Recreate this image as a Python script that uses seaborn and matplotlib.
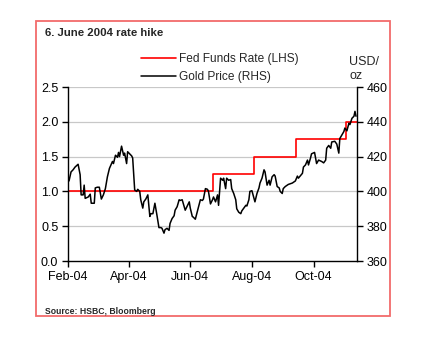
import matplotlib
matplotlib.use("Agg")
import matplotlib.pyplot as plt
import matplotlib.dates as mdates
from matplotlib.patches import Rectangle
import numpy as np
import pandas as pd
import seaborn as sns

# Fed funds target rate (%), step changes
fed_dates = ["2004-02-01", "2004-06-23", "2004-08-03", "2004-09-14",
             "2004-11-02", "2004-11-13"]
fed_rate = [1.00, 1.25, 1.50, 1.75, 2.00, 2.00]

# Gold price (USD/oz)
gold_dates = [
    "2004-02-02", "2004-02-04", "2004-02-06", "2004-02-08", "2004-02-11",
    "2004-02-13", "2004-02-14", "2004-02-16", "2004-02-17", "2004-02-18",
    "2004-02-21", "2004-02-23", "2004-02-24", "2004-02-27", "2004-02-28",
    "2004-03-01", "2004-03-03", "2004-03-05", "2004-03-07", "2004-03-09",
    "2004-03-11", "2004-03-13", "2004-03-16", "2004-03-17", "2004-03-19",
    "2004-03-21", "2004-03-22", "2004-03-23", "2004-03-25", "2004-03-27",
    "2004-03-28", "2004-03-30", "2004-03-31", "2004-04-02", "2004-04-04",
    "2004-04-05", "2004-04-07", "2004-04-09", "2004-04-10", "2004-04-12",
    "2004-04-13", "2004-04-15", "2004-04-16", "2004-04-18", "2004-04-20",
    "2004-04-22", "2004-04-23", "2004-04-25", "2004-04-27", "2004-04-29",
    "2004-05-01", "2004-05-03", "2004-05-04", "2004-05-06", "2004-05-07",
    "2004-05-09", "2004-05-11", "2004-05-12", "2004-05-14", "2004-05-16",
    "2004-05-17", "2004-05-19", "2004-05-21", "2004-05-22", "2004-05-24",
    "2004-05-26", "2004-05-27", "2004-05-29", "2004-05-31", "2004-06-01",
    "2004-06-03", "2004-06-04", "2004-06-06", "2004-06-08", "2004-06-09",
    "2004-06-11", "2004-06-13", "2004-06-14", "2004-06-16", "2004-06-18",
    "2004-06-19", "2004-06-21", "2004-06-23", "2004-06-24", "2004-06-26",
    "2004-06-28", "2004-06-29", "2004-07-01", "2004-07-03", "2004-07-04",
    "2004-07-06", "2004-07-07", "2004-07-09", "2004-07-11", "2004-07-12",
    "2004-07-14", "2004-07-16", "2004-07-17", "2004-07-19", "2004-07-21",
    "2004-07-22", "2004-07-24", "2004-07-26", "2004-07-27", "2004-07-29",
    "2004-07-30", "2004-08-01", "2004-08-03", "2004-08-04", "2004-08-06",
    "2004-08-08", "2004-08-09", "2004-08-11", "2004-08-13", "2004-08-14",
    "2004-08-16", "2004-08-18", "2004-08-19", "2004-08-21", "2004-08-23",
    "2004-08-24", "2004-08-26", "2004-08-28", "2004-08-29", "2004-08-31",
    "2004-09-01", "2004-09-03", "2004-09-06", "2004-09-10", "2004-09-13",
    "2004-09-15", "2004-09-16", "2004-09-20", "2004-09-21", "2004-09-23",
    "2004-09-25", "2004-09-26", "2004-09-28", "2004-09-29", "2004-10-02",
    "2004-10-04", "2004-10-06", "2004-10-09", "2004-10-11", "2004-10-13",
    "2004-10-14", "2004-10-16", "2004-10-18", "2004-10-19", "2004-10-22",
    "2004-10-24", "2004-10-26", "2004-10-27", "2004-10-29", "2004-10-31",
    "2004-11-01", "2004-11-03", "2004-11-05", "2004-11-06", "2004-11-08",
    "2004-11-10", "2004-11-11", "2004-11-12",
]
gold_price = [
    406.0, 411.2, 412.4, 414.0, 415.6,
    409.6, 398.0, 398.0, 403.6, 396.0,
    396.8, 398.4, 393.2, 393.2, 402.0,
    402.4, 402.4, 395.6, 398.0, 401.6,
    408.4, 413.2, 417.2, 416.0, 420.8,
    419.6, 422.4, 420.0, 426.0, 420.8,
    422.0, 416.0, 422.8, 421.6, 420.4,
    419.2, 400.8, 400.0, 401.2, 400.0,
    395.2, 390.4, 394.0, 395.6, 398.0,
    385.6, 387.2, 387.2, 393.2, 386.4,
    379.2, 379.2, 378.8, 376.0, 378.0,
    378.8, 377.6, 381.6, 384.4, 386.0,
    389.2, 391.2, 395.2, 394.8, 395.2,
    391.2, 389.2, 391.6, 394.0, 390.4,
    385.6, 385.2, 384.0, 388.4, 390.8,
    395.2, 394.8, 395.6, 401.6, 401.2,
    400.0, 392.8, 395.2, 396.8, 394.0,
    398.0, 392.0, 407.6, 406.4, 407.6,
    401.6, 407.6, 406.4, 406.8, 401.6,
    398.8, 395.2, 390.0, 388.0, 387.2,
    388.8, 390.4, 392.0, 391.6, 395.2,
    400.0, 400.4, 396.0, 394.0, 398.8,
    402.0, 404.8, 407.6, 412.4, 411.2,
    403.6, 406.4, 403.6, 408.4, 409.6,
    408.8, 402.8, 402.0, 400.0, 398.8,
    401.6, 402.8, 404.0, 404.8, 406.0,
    408.8, 407.6, 410.4, 414.0, 415.2,
    418.0, 415.2, 419.2, 421.6, 422.4,
    416.0, 418.0, 417.2, 416.4, 418.0,
    424.8, 426.4, 424.8, 428.4, 428.8,
    427.2, 422.0, 430.4, 432.4, 434.4,
    436.4, 434.8, 439.2, 438.4, 442.0,
    443.2, 446.0, 443.2,
]

left_ticks = [0.0, 0.5, 1.0, 1.5, 2.0, 2.5]
right_ticks = [360, 380, 400, 420, 440, 460]

fed = pd.DataFrame({"date": pd.to_datetime(fed_dates), "rate": fed_rate})
gold = pd.DataFrame({"date": pd.to_datetime(gold_dates), "price": gold_price})

sns.set_style("white")
FONT = ["Liberation Sans", "DejaVu Sans"]
plt.rcParams["font.family"] = FONT

fig = plt.figure(figsize=(4.3, 3.4), dpi=100)
ax = fig.add_axes([68 / 430, 1 - 261 / 340, (357 - 68) / 430, (261 - 87) / 340])
ax2 = ax.twinx()

# grid lines at the left-axis ticks
for v in left_ticks[1:]:
    ax.axhline(v, color="#c8c8c8", lw=0.9, zorder=0)

sns.lineplot(data=fed, x="date", y="rate", ax=ax, color="#ff0000", lw=1.2,
             drawstyle="steps-post", label="Fed Funds Rate (LHS)", legend=False)
sns.lineplot(data=gold, x="date", y="price", ax=ax2, color="black", lw=1.1,
             label="Gold Price (RHS)", legend=False)

ax.set_ylim(0, 2.5)
ax2.set_ylim(360, 460)
ax.set_yticks(left_ticks)
ax.set_yticklabels([f"{v:.1f}" for v in left_ticks])
ax2.set_yticks(right_ticks)
ax.set_xlim(pd.Timestamp("2004-02-01"), pd.Timestamp("2004-11-13"))
ax.xaxis.set_major_locator(mdates.MonthLocator(bymonth=[2, 4, 6, 8, 10]))
ax.xaxis.set_major_formatter(mdates.DateFormatter("%b-%y"))
for a in (ax, ax2):
    a.set_xlabel("")
    a.set_ylabel("")
    for s in a.spines.values():
        s.set_visible(False)
ax.spines["left"].set_visible(True)
ax.spines["bottom"].set_visible(True)
ax2.spines["right"].set_visible(True)
for s in (ax.spines["left"], ax.spines["bottom"], ax2.spines["right"]):
    s.set_color("black")
    s.set_linewidth(1.0)

ax.tick_params(axis="both", direction="out", length=4, width=1.0,
               labelsize=9, colors="black", pad=3)
ax.tick_params(axis="y", left=True)
ax.tick_params(axis="x", bottom=True)
ax2.tick_params(axis="y", direction="out", length=4, width=1.0, right=True,
                labelsize=9, colors="black", pad=3)

# legend
h1, l1 = ax.get_legend_handles_labels()
h2, l2 = ax2.get_legend_handles_labels()
fig.legend(h1 + h2, l1 + l2, loc="upper left",
           bbox_to_anchor=(141 / 430, 1 - 53 / 340), frameon=False,
           fontsize=8.6, handlelength=2.9, handletextpad=0.3,
           labelspacing=0.5, borderpad=0, borderaxespad=0)

fig.text(349 / 430, 1 - 65 / 340, "USD/", fontsize=9, ha="left", va="baseline")
fig.text(349 / 430, 1 - 79 / 340, "oz", fontsize=9, ha="left", va="baseline")

fig.text(45 / 430, 1 - 33 / 340, "6. June 2004 rate hike", fontsize=8.2,
         fontweight="bold", ha="left", va="center")
fig.text(45 / 430, 1 - 311 / 340, "Source: HSBC, Bloomberg", fontsize=6.2,
         fontweight="bold", ha="left", va="center")

# outer frame
fig.patches.append(Rectangle((36 / 430, 1 - 316 / 340), (390 - 36) / 430,
                             (316 - 21) / 340, transform=fig.transFigure,
                             fill=False, edgecolor="#f26b6b", lw=1.3))

fig.savefig("out.png", dpi=100)
